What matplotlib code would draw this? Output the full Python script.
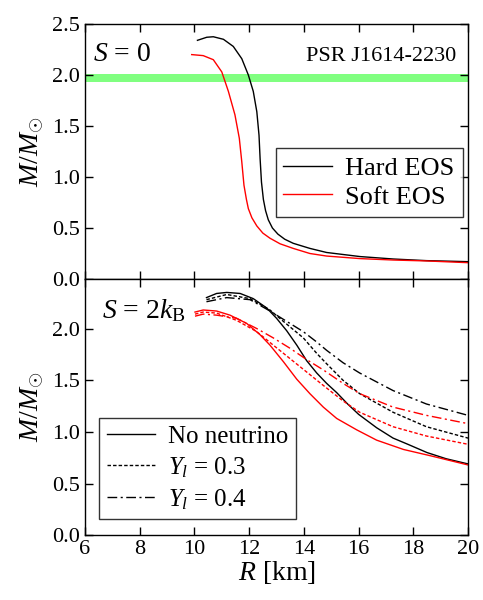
import numpy as np
import matplotlib
matplotlib.use("Agg")
import matplotlib.pyplot as plt

plt.rcParams['font.family'] = ['Liberation Serif', 'DejaVu Serif']
plt.rcParams['mathtext.fontset'] = 'custom'
plt.rcParams['mathtext.rm'] = 'Liberation Serif'
plt.rcParams['mathtext.it'] = 'Liberation Serif:italic'
plt.rcParams['mathtext.bf'] = 'Liberation Serif:bold'

# S = 0 panel
hard_r = [10.11, 10.45, 10.69, 11.06, 11.42, 11.73, 11.97, 12.15, 12.28, 12.36, 12.40, 12.45, 12.52,
          12.60, 12.70, 12.85, 13.05, 13.30, 13.61, 14.22, 14.83, 16.05, 17.27, 18.49, 20.0]
hard_m = [2.34, 2.37, 2.375, 2.35, 2.28, 2.16, 2.00, 1.84, 1.64, 1.41, 1.18, 0.95, 0.78,
          0.67, 0.58, 0.50, 0.44, 0.39, 0.35, 0.30, 0.26, 0.22, 0.196, 0.18, 0.17]
soft_r = [9.90, 10.32, 10.69, 11.00, 11.24, 11.48, 11.64, 11.73, 11.81, 11.90, 11.97, 12.10,
          12.28, 12.50, 12.76, 13.13, 13.61, 14.22, 14.83, 16.05, 17.27, 18.49, 20.0]
soft_m = [2.20, 2.19, 2.15, 2.03, 1.84, 1.61, 1.38, 1.15, 0.92, 0.78, 0.69, 0.60,
          0.52, 0.45, 0.40, 0.345, 0.30, 0.25, 0.225, 0.20, 0.186, 0.177, 0.16]

psr_mass = 1.97
psr_err = 0.04

# S = 2 kB panel
hard_nonu_r = [10.44, 10.81, 11.18, 11.67, 12.15, 12.64, 13.0, 13.37, 13.74, 14.1, 14.47, 14.83,
               15.2, 15.6, 16.0, 16.66, 17.26, 17.8, 18.5, 19.2, 20.0]
hard_nonu_m = [2.30, 2.34, 2.35, 2.34, 2.29, 2.20, 2.10, 1.98, 1.84, 1.69, 1.57, 1.47,
               1.38, 1.27, 1.17, 1.04, 0.94, 0.88, 0.80, 0.74, 0.69]
hard_y03_r = [10.44, 11.18, 12.03, 12.76, 13.25, 13.98, 14.47, 14.83, 15.43, 16.04, 17.26, 18.48, 20.0]
hard_y03_m = [2.28, 2.33, 2.29, 2.18, 2.07, 1.91, 1.76, 1.66, 1.50, 1.37, 1.19, 1.05, 0.94]
hard_y04_r = [10.44, 11.18, 12.03, 12.76, 13.37, 13.98, 14.47, 14.83, 15.43, 16.04, 17.26, 18.48, 20.0]
hard_y04_m = [2.26, 2.30, 2.28, 2.17, 2.07, 1.97, 1.87, 1.79, 1.67, 1.57, 1.40, 1.27, 1.16]

soft_nonu_r = [10.02, 10.32, 10.81, 11.3, 11.91, 12.4, 12.76, 13.25, 13.74, 14.22, 14.71, 15.2,
               15.93, 16.66, 17.64, 18.61, 20.0]
soft_nonu_m = [2.16, 2.18, 2.17, 2.13, 2.05, 1.94, 1.84, 1.68, 1.51, 1.37, 1.24, 1.13,
               1.02, 0.92, 0.83, 0.77, 0.68]
soft_y03_r = [10.02, 10.32, 10.81, 11.54, 12.28, 12.88, 13.49, 14.1, 14.71, 15.43, 16.04, 17.26, 18.48, 20.0]
soft_y03_m = [2.14, 2.16, 2.15, 2.08, 1.97, 1.84, 1.71, 1.58, 1.45, 1.30, 1.19, 1.05, 0.96, 0.88]
soft_y04_r = [10.02, 10.32, 10.81, 11.54, 12.28, 12.88, 13.49, 14.1, 14.71, 15.43, 16.04, 17.26, 18.48, 20.0]
soft_y04_m = [2.12, 2.14, 2.13, 2.10, 2.00, 1.91, 1.81, 1.70, 1.60, 1.47, 1.37, 1.24, 1.16, 1.08]

DOT = (0, (2.5, 1.5))
DASHDOT = (0, (7, 2.5, 1.5, 2.5))

fig = plt.figure(figsize=(4.83, 6.0), dpi=100)
ax1 = fig.add_axes([0.176, 0.535, 0.793, 0.425])
ax2 = fig.add_axes([0.176, 0.108, 0.793, 0.427])

for ax in (ax1, ax2):
    ax.set_xlim(6, 20)
    ax.set_xticks(range(6, 21, 2))
    ax.tick_params(direction='in', top=True, right=True, labelsize=16, length=6, width=1,
                   labelfontfamily='Liberation Serif')
    ax.set_ylabel(r'$M/M_{\odot}$', fontsize=20, labelpad=4)
    for s in ax.spines.values():
        s.set_linewidth(1)

# top panel
ax1.set_ylim(0, 2.5)
ax1.set_yticks([0, 0.5, 1.0, 1.5, 2.0, 2.5])
ax1.set_yticklabels(['0.0', '0.5', '1.0', '1.5', '2.0', '2.5'])
ax1.tick_params(labelbottom=False)
ax1.axhspan(psr_mass - psr_err, psr_mass + psr_err, color='#80ff80', lw=0)
ax1.plot(hard_r, hard_m, color='black', lw=1, label='Hard EOS')
ax1.plot(soft_r, soft_m, color='red', lw=1, label='Soft EOS')
ax1.text(0.02, 0.93, r'$S$ = 0', transform=ax1.transAxes, fontsize=20, va='top')
ax1.text(0.97, 0.91, 'PSR J1614-2230', transform=ax1.transAxes, fontsize=16, va='top', ha='right')
leg1 = ax1.legend(loc='lower right', bbox_to_anchor=(0.986, 0.245), fontsize=19, frameon=True,
                  fancybox=False, edgecolor='black', handlelength=1.85, borderpad=0.3,
                  labelspacing=0.2, handletextpad=0.5, borderaxespad=0)
leg1.get_frame().set_linewidth(1)

# bottom panel
ax2.set_ylim(0, 2.48)
ax2.set_yticks([0, 0.5, 1.0, 1.5, 2.0])
ax2.set_yticklabels(['0.0', '0.5', '1.0', '1.5', '2.0'])
ax2.plot(hard_nonu_r, hard_nonu_m, color='black', lw=1)
ax2.plot(hard_y03_r, hard_y03_m, color='black', lw=1, ls=DOT)
ax2.plot(hard_y04_r, hard_y04_m, color='black', lw=1, ls=DASHDOT)
ax2.plot(soft_nonu_r, soft_nonu_m, color='red', lw=1)
ax2.plot(soft_y03_r, soft_y03_m, color='red', lw=1, ls=DOT)
ax2.plot(soft_y04_r, soft_y04_m, color='red', lw=1, ls=DASHDOT)
ax2.text(0.045, 0.93, r'$S$ = 2$k_{\rm B}$', transform=ax2.transAxes, fontsize=20, va='top')

h1, = ax2.plot([], [], color='black', lw=1, label='No neutrino')
h2, = ax2.plot([], [], color='black', lw=1, ls=DOT, label=r'$Y_l$ = 0.3')
h3, = ax2.plot([], [], color='black', lw=1, ls=DASHDOT, label=r'$Y_l$ = 0.4')
leg2 = ax2.legend(handles=[h1, h2, h3], loc='lower left', bbox_to_anchor=(0.037, 0.062), fontsize=18,
                  frameon=True, fancybox=False, edgecolor='black', handlelength=1.95,
                  borderpad=0.3, labelspacing=0.3, handletextpad=0.5, borderaxespad=0)
leg2.get_frame().set_linewidth(1)

ax2.set_xlabel(r'$R$ [km]', fontsize=20, labelpad=0)

fig.savefig('out.png', dpi=100)
